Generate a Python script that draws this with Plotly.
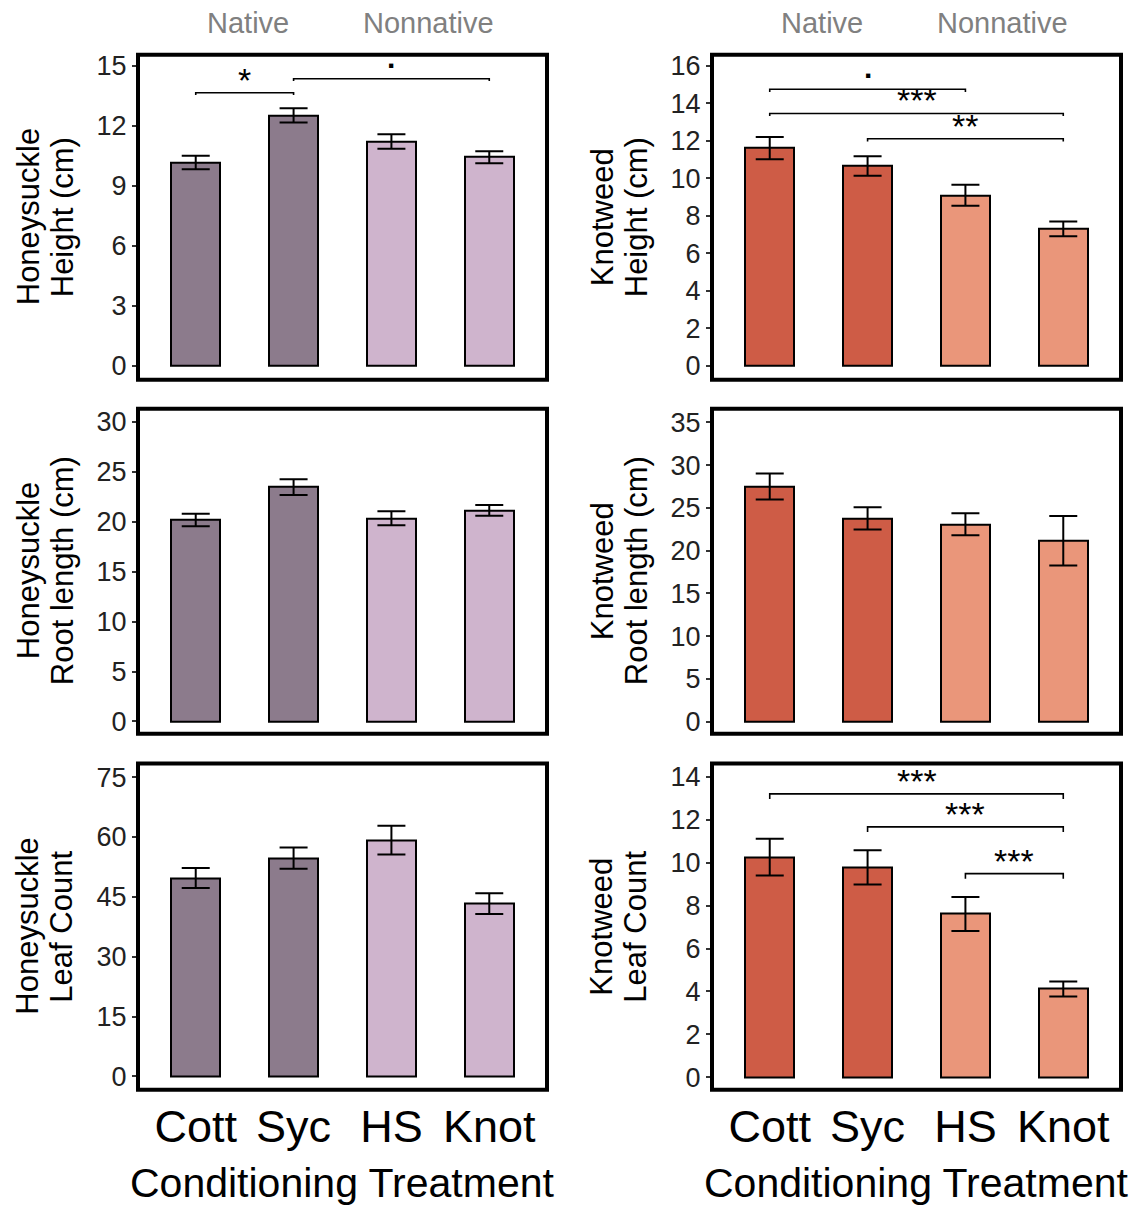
import plotly.graph_objects as go
from plotly.subplots import make_subplots

# ---------------- data ----------------
categories = ["Cott", "Syc", "HS", "Knot"]
origin = ["Native", "Native", "Nonnative", "Nonnative"]

hs_height = [10.16, 12.52, 11.21, 10.43]
hs_height_se = [0.34, 0.36, 0.36, 0.30]
kw_height = [11.60, 10.65, 9.09, 7.30]
kw_height_se = [0.59, 0.52, 0.56, 0.39]

hs_root = [20.18, 23.48, 20.35, 21.15]
hs_root_se = [0.62, 0.78, 0.70, 0.55]
kw_root = [27.50, 23.78, 23.08, 21.17]
kw_root_se = [1.53, 1.30, 1.28, 2.89]

hs_leaf = [49.7, 54.7, 59.2, 43.3]
hs_leaf_se = [2.50, 2.65, 3.60, 2.60]
kw_leaf = [10.26, 9.78, 7.61, 4.11]
kw_leaf_se = [0.86, 0.80, 0.79, 0.35]

# significance brackets: (from category index, to category index, y level, label)
hs_height_sig = [(1, 2, 13.65, "*"), (2, 4, 14.35, ".")]
kw_height_sig = [(1, 3, 14.74, "."), (1, 4, 13.45, "***"), (2, 4, 12.10, "**")]
kw_leaf_sig = [(1, 4, 13.21, "***"), (2, 4, 11.67, "***"), (3, 4, 9.49, "***")]

hs_titles = ["Honeysuckle", "Height (cm)", "Honeysuckle", "Root length (cm)", "Honeysuckle", "Leaf Count"]
kw_titles = ["Knotweed", "Height (cm)", "Knotweed", "Root length (cm)", "Knotweed", "Leaf Count"]

# ---------------- style ----------------
FONT = "Liberation Sans, Arial, sans-serif"
hs_colors = {"Native": "#8C7B8C", "Nonnative": "#CFB4CD"}
kw_colors = {"Native": "#CE5C46", "Nonnative": "#EA967A"}

W, H = 1139, 1211
col_px = [(138, 547), (712, 1121)]
row_px = [(51, 378), (407, 734), (764, 1092)]

panels = [
    # row, col, values, se, colors, y range, dtick, tick max, sig, tip
    (1, 1, hs_height, hs_height_se, hs_colors, [-0.70, 15.55], 3, 15, hs_height_sig, 0.12),
    (1, 2, kw_height, kw_height_se, kw_colors, [-0.74, 16.58], 2, 16, kw_height_sig, 0.14),
    (2, 1, hs_root, hs_root_se, hs_colors, [-1.23, 31.34], 5, 30, [], 0),
    (2, 2, kw_root, kw_root_se, kw_colors, [-1.40, 36.60], 5, 35, [], 0),
    (3, 1, hs_leaf, hs_leaf_se, hs_colors, [-3.34, 78.40], 15, 75, [], 0),
    (3, 2, kw_leaf, kw_leaf_se, kw_colors, [-0.58, 14.62], 2, 14, kw_leaf_sig, 0.24),
]

fig = make_subplots(rows=3, cols=2)
xpos = [1, 2, 3, 4]
annotations = []

for i, (r, c, vals, se, cmap, yr, dt, tmax, sig, tip) in enumerate(panels):
    fig.add_trace(go.Bar(
        x=xpos, y=vals, width=0.5,
        marker=dict(color=[cmap[o] for o in origin], line=dict(color="black", width=2)),
        error_y=dict(type="data", array=se, visible=True, color="black", thickness=2, width=14),
        showlegend=False,
    ), row=r, col=c)
    idx = (r - 1) * 2 + c
    xr = "x" if idx == 1 else f"x{idx}"
    yref = "y" if idx == 1 else f"y{idx}"
    for (a, b, yv, lab) in sig:
        fig.add_trace(go.Scatter(
            x=[a, a, b, b], y=[yv - tip, yv, yv, yv - tip], mode="lines",
            line=dict(color="black", width=1.6), showlegend=False, hoverinfo="skip",
        ), row=r, col=c)
        if lab == ".":
            annotations.append(dict(x=(a + b) / 2, y=yv, xref=xr, yref=yref, text="<b>.</b>",
                                    showarrow=False, yanchor="bottom", yshift=3,
                                    font=dict(family=FONT, size=30, color="black")))
        else:
            annotations.append(dict(x=(a + b) / 2, y=yv, xref=xr, yref=yref, text=lab,
                                    showarrow=False, yanchor="bottom", yshift=-8,
                                    font=dict(family=FONT, size=34, color="black")))
    x0, x1 = col_px[c - 1]
    y0, y1 = row_px[r - 1]
    fig.update_xaxes(domain=[x0 / W, x1 / W], range=[0.41, 4.59], tickvals=xpos, ticktext=categories,
                     showticklabels=(r == 3), ticks="", showgrid=False, zeroline=False, showline=False,
                     tickfont=dict(family=FONT, size=45, color="black"), ticklabelstandoff=6,
                     row=r, col=c)
    fig.update_yaxes(domain=[1 - y1 / H, 1 - y0 / H], range=yr, tickvals=list(range(0, tmax + 1, dt)),
                     ticks="outside", ticklen=5, tickwidth=1.5, tickcolor="#333",
                     showgrid=False, zeroline=False, showline=False,
                     tickfont=dict(family=FONT, size=27, color="#222"), row=r, col=c)
    dom = "x domain" if idx == 1 else f"x{idx} domain"
    ydom = "y domain" if idx == 1 else f"y{idx} domain"
    fig.add_shape(type="rect", xref=dom, yref=ydom, x0=0, x1=1, y0=0, y1=1,
                  line=dict(color="black", width=4), layer="above")
    # y-axis titles (two lines)
    titles = hs_titles if c == 1 else kw_titles
    yc = 1 - (y0 + y1) / 2 / H
    for k, off in enumerate([110, 76]):
        annotations.append(dict(x=(x0 - off) / W, y=yc, xref="paper", yref="paper",
                                text=titles[(r - 1) * 2 + k], textangle=-90, showarrow=False,
                                xanchor="center", yanchor="middle",
                                font=dict(family=FONT, size=31, color="black")))

# group labels on top
for cx, lab in [(248, "Native"), (428, "Nonnative"), (822, "Native"), (1002, "Nonnative")]:
    annotations.append(dict(x=cx / W, y=1 - 19 / H, xref="paper", yref="paper", text=lab,
                            showarrow=False, xanchor="center", yanchor="middle",
                            font=dict(family=FONT, size=29, color="#808080")))
# x-axis titles
for cx in [(138 + 547) / 2, (712 + 1121) / 2]:
    annotations.append(dict(x=cx / W, y=1 - 1186 / H, xref="paper", yref="paper",
                            text="Conditioning Treatment", showarrow=False,
                            xanchor="center", yanchor="middle",
                            font=dict(family=FONT, size=41, color="black")))

fig.update_layout(width=W, height=H, margin=dict(l=0, r=0, t=0, b=0),
                  plot_bgcolor="white", paper_bgcolor="white",
                  annotations=annotations, font=dict(family=FONT), bargap=0)
fig.write_html("out.html")
